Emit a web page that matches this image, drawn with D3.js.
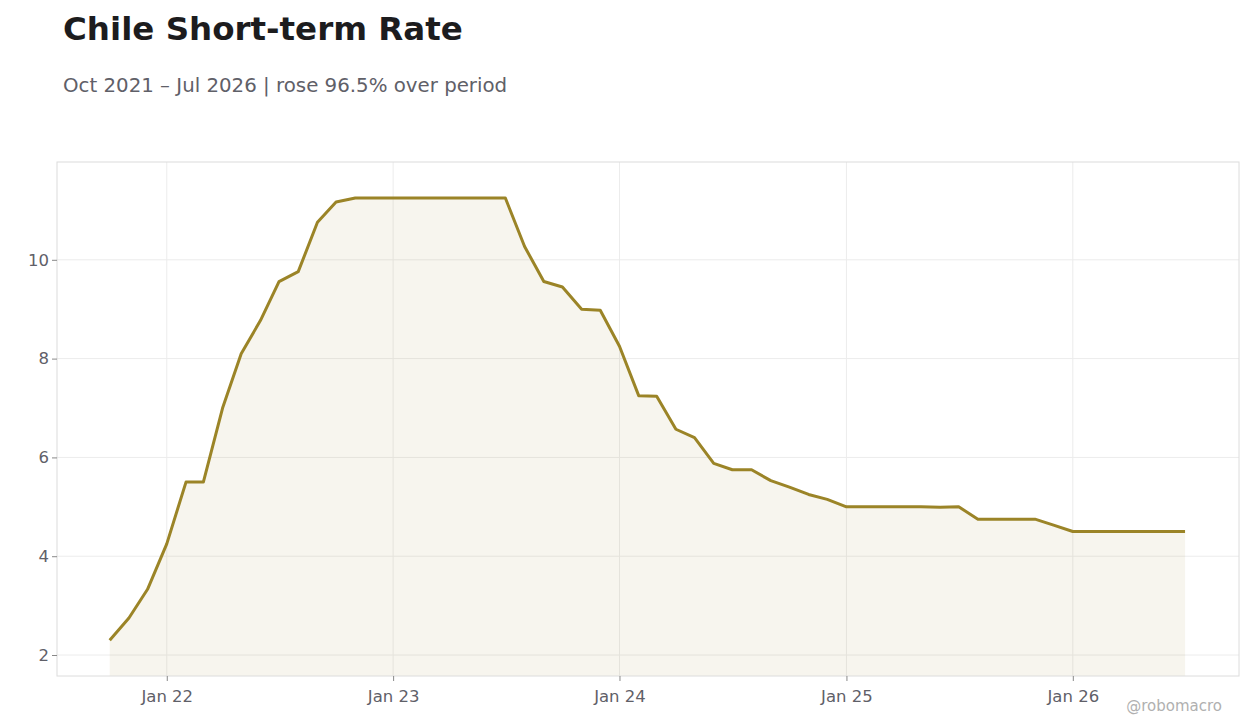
<!DOCTYPE html>
<html><head><meta charset="utf-8">
<script src="https://cdn.jsdelivr.net/npm/d3@7"></script>
<style>body{margin:0;background:#fff;font-family:"DejaVu Sans",sans-serif}</style>
</head><body><svg id="c" width="1260" height="728"></svg>
<script>
const startMonth = "2021-10";
const values = [2.3,2.75,3.33,4.25,5.5,5.5,7.0,8.1,8.77,9.56,9.76,10.76,11.17,11.25,
11.25,11.25,11.25,11.25,11.25,11.25,11.25,11.25,10.27,9.56,9.45,9.0,8.98,
8.25,7.25,7.24,6.57,6.4,5.88,5.75,5.75,5.53,5.4,5.25,5.15,
5.0,5.0,5.0,5.0,5.0,4.99,5.0,4.75,4.75,4.75,4.75,4.63,
4.5,4.5,4.5,4.5,4.5,4.5,4.5];
const yTicks = [2,4,6,8,10];
const xTickLabels = ["Jan 22","Jan 23","Jan 24","Jan 25","Jan 26"];
const xTickDates = ["2022-01-01","2023-01-01","2024-01-01","2025-01-01","2026-01-01"];

const parse = d3.timeParse("%Y-%m");
const t0 = parse(startMonth);
const data = values.map((v,i)=>({d:d3.timeMonth.offset(t0,i),v}));
const svg = d3.select("#c");
const L=57,R=1239,T=162,B=676;
const x = d3.scaleTime().domain([new Date(2021,6,8),new Date(2026,8,26)]).range([L,R]);
const y = d3.scaleLinear().domain([1.575,11.98]).range([B,T]);

svg.append("text").attr("x",63).attr("y",40).text("Chile Short-term Rate")
 .attr("font-size",32.5).attr("font-weight","bold").attr("fill","#1c1c1e");
svg.append("text").attr("x",63).attr("y",92).text("Oct 2021 – Jul 2026 | rose 96.5% over period")
 .attr("font-size",19.8).attr("fill","#5f6068");

const xd = xTickDates.map(s=>new Date(s+"T00:00"));
svg.append("g").selectAll("line").data(xd).join("line")
 .attr("x1",d=>x(d)).attr("x2",d=>x(d)).attr("y1",T).attr("y2",B).attr("stroke","#ececec");
svg.append("g").selectAll("line").data(yTicks).join("line")
 .attr("x1",L).attr("x2",R).attr("y1",d=>y(d)).attr("y2",d=>y(d)).attr("stroke","#ececec");

svg.append("path").datum(data).attr("fill","#9b8427").attr("fill-opacity",0.08)
 .attr("d",d3.area().x(d=>x(d.d)).y0(B).y1(d=>y(d.v)));
svg.append("path").datum(data).attr("fill","none").attr("stroke","#9b8427").attr("stroke-width",3)
 .attr("stroke-linejoin","round").attr("d",d3.line().x(d=>x(d.d)).y(d=>y(d.v)));

svg.append("rect").attr("x",L).attr("y",T).attr("width",R-L).attr("height",B-T)
 .attr("fill","none").attr("stroke","#dcdcdc");

const xa = svg.append("g").attr("transform",`translate(0,${B})`)
 .call(d3.axisBottom(x).tickValues(xd).tickFormat((d,i)=>xTickLabels[i]).tickSize(5));
xa.select(".domain").remove();
xa.selectAll("line").attr("stroke","#888");
xa.selectAll("text").attr("font-size",16.5).attr("fill","#5f6068").attr("dy","1.1em").attr("font-family","DejaVu Sans");
const ya = svg.append("g").attr("transform",`translate(${L},0)`)
 .call(d3.axisLeft(y).tickValues(yTicks).tickSize(5));
ya.select(".domain").remove();
ya.selectAll("line").attr("stroke","#888");
ya.selectAll("text").attr("font-size",16.5).attr("fill","#5f6068").attr("font-family","DejaVu Sans");

svg.append("text").attr("x",1222).attr("y",711).attr("text-anchor","end").text("@robomacro")
 .attr("font-size",15).attr("fill","#b0b0b0");
</script></body></html>
